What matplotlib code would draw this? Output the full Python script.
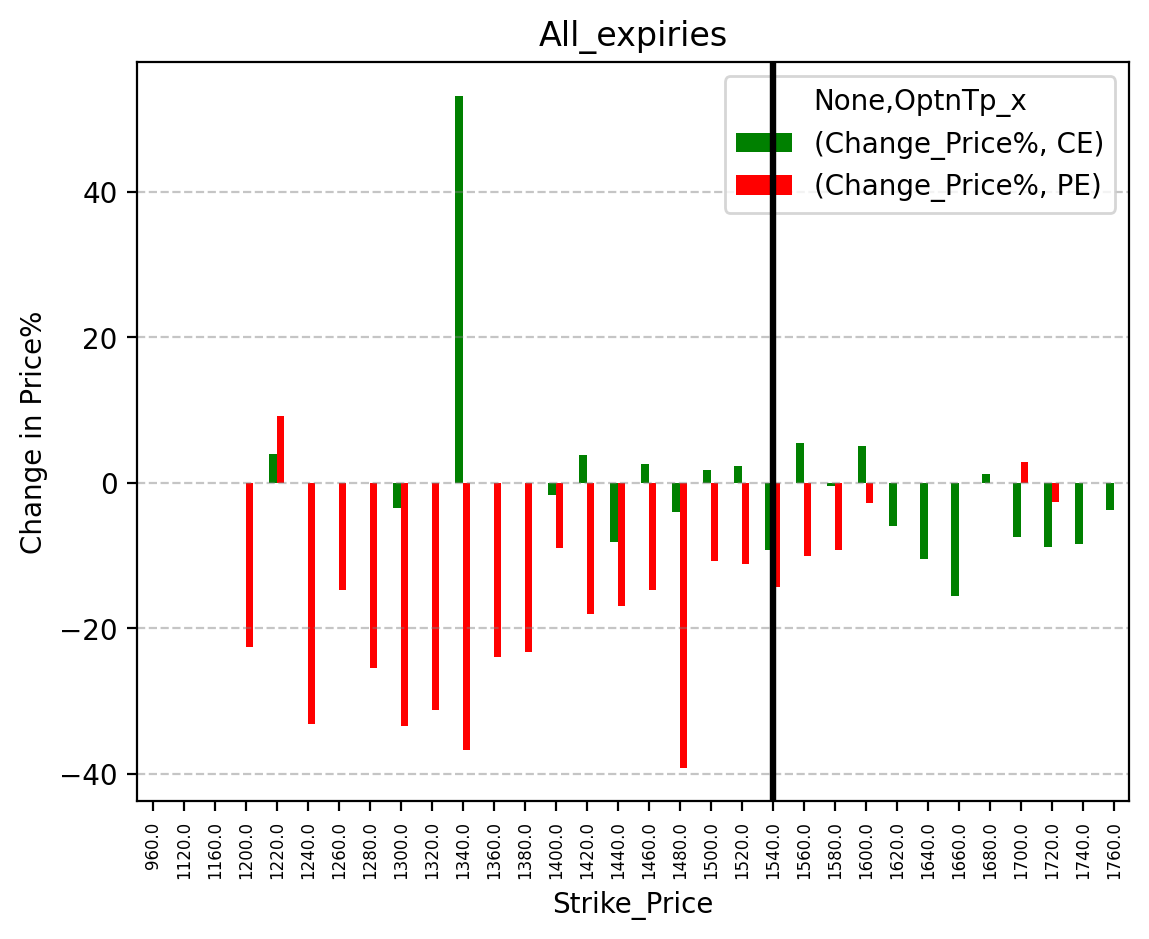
import numpy as np
import matplotlib
matplotlib.use("Agg")
import matplotlib.pyplot as plt

nan = np.nan
strikes = [960.0, 1120.0, 1160.0, 1200.0, 1220.0, 1240.0, 1260.0, 1280.0, 1300.0, 1320.0,
           1340.0, 1360.0, 1380.0, 1400.0, 1420.0, 1440.0, 1460.0, 1480.0, 1500.0, 1520.0,
           1540.0, 1560.0, 1580.0, 1600.0, 1620.0, 1640.0, 1660.0, 1680.0, 1700.0, 1720.0,
           1740.0, 1760.0]
ce_change = [nan, nan, nan, nan, 4.0, nan, nan, nan, -3.5, nan,
             53.2, nan, nan, -1.7, 3.8, -8.1, 2.5, -4.1, 1.8, 2.3,
             -9.3, 5.4, -0.4, 5.1, -5.9, -10.5, -15.6, 1.2, -7.5, -8.9,
             -8.5, -3.8]
pe_change = [nan, nan, nan, -22.6, 9.1, -33.2, -14.7, -25.5, -33.4, -31.2,
             -36.8, -24.0, -23.3, -9.0, -18.0, -17.0, -14.8, -39.2, -10.8, -11.2,
             -14.3, -10.1, -9.2, -2.8, nan, nan, nan, nan, 2.9, -2.7,
             nan, nan]
spot_strike = 1540.0
series_labels = ["(Change_Price%, CE)", "(Change_Price%, PE)"]

fig, ax = plt.subplots(figsize=(6.4, 4.8), dpi=200)
x = np.arange(len(strikes))
w = 0.25
ax.bar(x - w / 2, ce_change, width=w, color="green", label=series_labels[0])
ax.bar(x + w / 2, pe_change, width=w, color="red", label=series_labels[1])
ax.set_xlim(-0.5, len(strikes) - 0.5)
ax.set_xticks(x)
ax.set_xticklabels([f"{s:.1f}" for s in strikes], rotation=90, fontsize=6)
ax.set_xlabel("Strike_Price")
ax.set_ylabel("Change in Price%")
ax.set_title("All_expiries")
ax.yaxis.grid(True, linestyle="--", color="gray", alpha=0.45)
ax.legend(title="None,OptnTp_x", loc="upper right")
ax.axvline(strikes.index(spot_strike), color="black", linewidth=2.3, zorder=10)

fig.savefig("out.png", dpi=200, bbox_inches="tight")
